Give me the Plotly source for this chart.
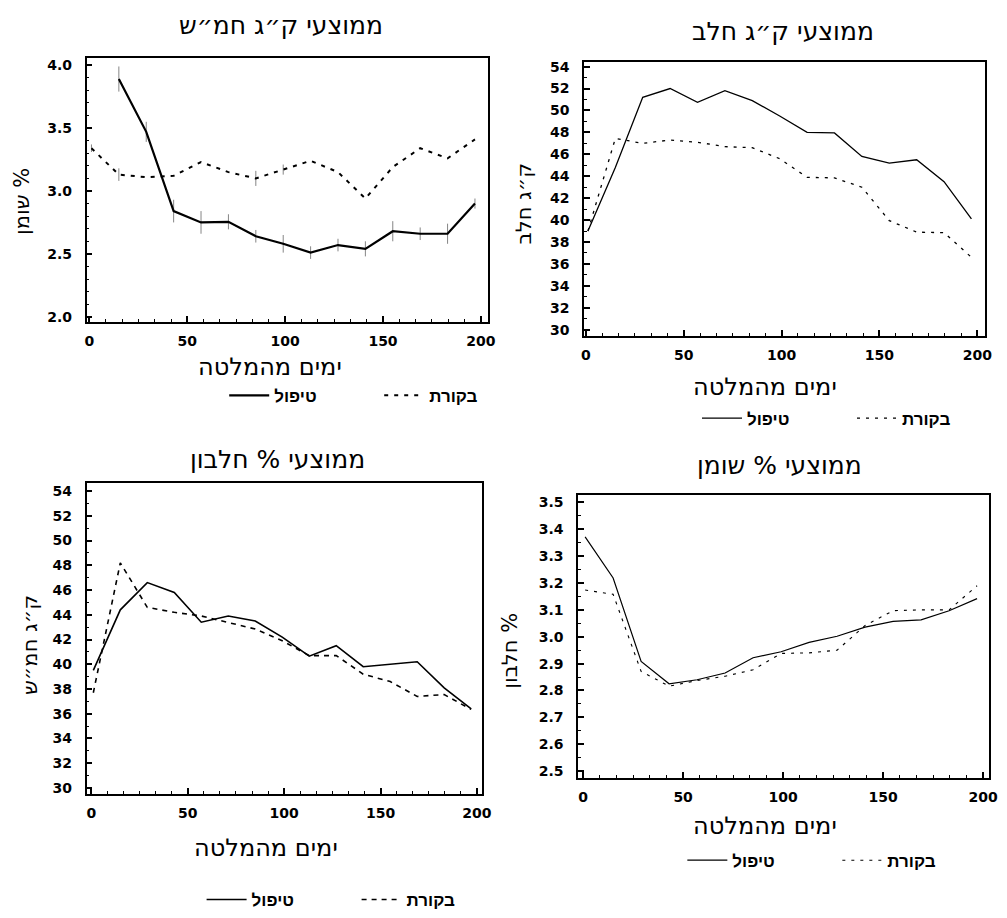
import plotly.graph_objects as go

# ---------------- data ----------------
days = [1, 15, 29, 43, 57, 71, 85, 99, 113, 127, 141, 155, 169, 183, 197]

# top-left panel
tl_treat = [None, 3.89, 3.47, 2.84, 2.75, 2.755, 2.64, 2.58, 2.51, 2.57, 2.54, 2.68, 2.66, 2.66, 2.90]
tl_ctrl = [3.34, 3.13, 3.11, 3.12, 3.23, 3.15, 3.10, 3.17, 3.24, 3.15, 2.94, 3.19, 3.34, 3.26, 3.41]
tl_treat_err = [0, 0.10, 0.08, 0.09, 0.09, 0.06, 0.05, 0.07, 0.05, 0.05, 0.06, 0.08, 0.05, 0.08, 0.04]
tl_ctrl_err = [0.03, 0.05, 0, 0, 0, 0, 0.06, 0.04, 0, 0, 0, 0, 0, 0, 0]

# top-right panel
tr_treat = [39.0, 44.8, 51.2, 52.0, 50.75, 51.8, 50.9, 49.5, 48.0, 47.95, 45.8, 45.2, 45.5, 43.5, 40.1]
tr_ctrl = [39.0, 47.45, 47.0, 47.3, 47.1, 46.7, 46.6, 45.6, 43.9, 43.85, 43.0, 39.95, 38.9, 38.85, 36.6]

# bottom-left panel
bl_treat = [39.5, 44.4, 46.6, 45.8, 43.4, 43.9, 43.5, 42.2, 40.65, 41.5, 39.8, 40.0, 40.2, 38.1, 36.4]
bl_ctrl = [37.7, 48.2, 44.6, 44.2, 43.9, 43.4, 42.85, 41.9, 40.7, 40.7, 39.2, 38.6, 37.4, 37.55, 36.35]

# bottom-right panel
br_treat = [3.372, 3.219, 2.908, 2.825, 2.84, 2.865, 2.922, 2.944, 2.979, 3.002, 3.036, 3.057, 3.063, 3.097, 3.142]
br_ctrl = [3.174, 3.158, 2.871, 2.816, 2.837, 2.853, 2.877, 2.938, 2.94, 2.95, 3.042, 3.097, 3.10, 3.10, 3.19]

name_treat = "טיפול"
name_ctrl = "בקורת"
x_title = "ימים מהמלטה"
titles = ["ממוצעי ק״ג חמ״ש", "ממוצעי ק״ג חלב", "ממוצעי % חלבון", "ממוצעי % שומן"]
y_titles = ["שומן %", "ק״ג חלב", "ק״ג חמ״ש", "חלבון %"]

x_ticks = [0, 50, 100, 150, 200]
tl_yticks = [2.0, 2.5, 3.0, 3.5, 4.0]
kg_yticks = [30, 32, 34, 36, 38, 40, 42, 44, 46, 48, 50, 52, 54]
br_yticks = [2.5, 2.6, 2.7, 2.8, 2.9, 3.0, 3.1, 3.2, 3.3, 3.4, 3.5]

# ---------------- figure ----------------
W, H = 1007, 918
HEB = "DejaVu Sans, Liberation Sans, sans-serif"
LEGFAM = "Liberation Sans, DejaVu Sans, sans-serif"
TICKF = dict(family="DejaVu Sans", size=14, color="black", weight="bold")

fig = go.Figure()

def px_x(p):
    return p / W

def px_y(p):
    return 1 - p / H

panels = [
    ("", (85, 493), (55, 322), [-1.5, 203.5], [1.96, 4.055], tl_yticks, ".1f", 0.1),
    ("2", (591, 999), (59, 336), [-1, 204], [29.46, 54.4], kg_yticks, "d", 1),
    ("3", (85, 487), (485, 800), [-2.5, 202.5], [29.55, 54.68], kg_yticks, "d", 1),
    ("4", (585, 1003), (498, 784), [-2.5, 203], [2.475, 3.526], br_yticks, ".1f", 0.05),
]

for suf, (x0, x1), (y0, y1), xr, yr, yt, yfmt, ymin in panels:
    fig.layout["xaxis" + suf] = dict(
        domain=[px_x(x0), px_x(x1)], range=xr, anchor="y" + suf,
        tickvals=x_ticks, ticks="inside", ticklen=6, tickwidth=1.5, tickcolor="black",
        minor=dict(ticks="inside", ticklen=3, tickwidth=1, tickcolor="black", dtick=50 / 6, tick0=0),
        showline=True, linecolor="black", linewidth=1.6, mirror=True,
        showgrid=False, zeroline=False, tickfont=TICKF, ticklabelstandoff=6,
    )
    fig.layout["yaxis" + suf] = dict(
        domain=[px_y(y1), px_y(y0)], range=yr, anchor="x" + suf,
        tickvals=yt, tickformat=yfmt, ticks="inside", ticklen=6, tickwidth=1.5, tickcolor="black",
        minor=dict(ticks="inside", ticklen=3, tickwidth=1, tickcolor="black", dtick=ymin, tick0=0),
        showline=True, linecolor="black", linewidth=1.6, mirror=True,
        showgrid=False, zeroline=False, tickfont=TICKF, ticklabelstandoff=10,
    )

def add_pair(suf, legend, treat, ctrl, sw, dw, dash, terr=None, cerr=None):
    xa = "x" + suf
    ya = "y" + suf
    fig.add_trace(go.Scatter(
        x=days, y=treat, xaxis=xa, yaxis=ya, mode="lines", name=name_treat,
        line=dict(color="black", width=sw), legend=legend, connectgaps=False,
        error_y=(dict(type="data", array=terr, visible=True, color="#666", thickness=0.8, width=0)
                 if terr else None),
    ))
    fig.add_trace(go.Scatter(
        x=days, y=ctrl, xaxis=xa, yaxis=ya, mode="lines", name=name_ctrl,
        line=dict(color="black", width=dw, dash=dash), legend=legend,
        error_y=(dict(type="data", array=cerr, visible=True, color="#666", thickness=0.8, width=0)
                 if cerr else None),
    ))

add_pair("", "legend", tl_treat, tl_ctrl, 2.2, 2.0, "4px,6px", tl_treat_err, tl_ctrl_err)
add_pair("2", "legend2", tr_treat, tr_ctrl, 1.3, 1.3, "3px,6px")
add_pair("3", "legend3", bl_treat, bl_ctrl, 1.6, 1.6, "5px,5px")
add_pair("4", "legend4", br_treat, br_ctrl, 1.2, 1.1, "3px,6px")

LEGF = dict(family=LEGFAM, size=17, color="black", weight="bold")
leg_pos = [("legend", 225, 397), ("legend2", 706, 420), ("legend3", 202, 908), ("legend4", 691, 868)]
for key, lx, ly in leg_pos:
    fig.layout[key] = dict(
        x=px_x(lx), y=px_y(ly), xanchor="left", yanchor="middle", orientation="h",
        font=LEGF, bgcolor="rgba(0,0,0,0)", borderwidth=0, entrywidth=100, itemwidth=40,
        tracegroupgap=0,
    )

annotations = []
title_pos = [(283, 22), (793, 28), (279, 462), (790, 468)]
for t, (cx, cy) in zip(titles, title_pos):
    annotations.append(dict(text=t, x=px_x(cx), y=px_y(cy), xref="paper", yref="paper",
                            showarrow=False, xanchor="center", yanchor="middle",
                            font=dict(family=HEB, size=25, color="black")))
xt_pos = [(272, 368), (775, 388), (268, 855), (775, 833)]
for cx, cy in xt_pos:
    annotations.append(dict(text=x_title, x=px_x(cx), y=px_y(cy), xref="paper", yref="paper",
                            showarrow=False, xanchor="center", yanchor="middle",
                            font=dict(family=HEB, size=24, color="black")))
yt_pos = [(20, 200), (530, 202), (27, 650), (516, 655)]
for t, (cx, cy) in zip(y_titles, yt_pos):
    annotations.append(dict(text=t, x=px_x(cx), y=px_y(cy), xref="paper", yref="paper",
                            showarrow=False, xanchor="center", yanchor="middle", textangle=-90,
                            font=dict(family=HEB, size=21, color="black")))

fig.update_layout(
    width=W, height=H, margin=dict(l=0, r=0, t=0, b=0),
    paper_bgcolor="white", plot_bgcolor="white",
    annotations=annotations, showlegend=True,
)

fig.write_html("out.html", config={"displayModeBar": False},
               post_script="document.body.style.margin='0';document.body.style.overflow='hidden';")
